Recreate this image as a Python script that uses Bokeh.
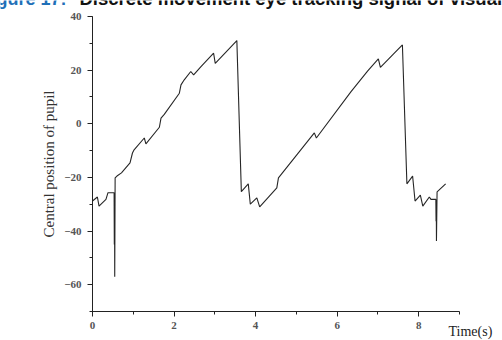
from bokeh.plotting import figure
from bokeh.models import Range1d, SingleIntervalTicker, Label, LinearAxis
from bokeh.embed import file_html
from bokeh.resources import INLINE

# Data
time_s = [0.0, 0.12, 0.16, 0.33, 0.38, 0.51, 0.53, 0.535, 0.54, 0.545, 0.555,
          0.6, 0.71, 0.92, 0.98, 1.02, 1.27, 1.31, 1.64, 1.68, 1.76, 2.13, 2.17,
          2.25, 2.41, 2.48, 2.66, 2.97, 3.01, 3.54, 3.65, 3.82, 3.87, 4.03, 4.1,
          4.52, 4.56, 5.44, 5.49, 6.34, 6.75, 7.01, 7.06, 7.6, 7.71, 7.85, 7.91,
          8.04, 8.1, 8.26, 8.3, 8.42, 8.425, 8.43, 8.435, 8.45, 8.66]
pupil = [-28.8, -27.3, -30.7, -28.2, -25.7, -25.7, -25.7, -45.0, -26.0, -57.0, -20.2,
         -19.5, -18.3, -14.6, -10.9, -9.7, -5.3, -7.5, -1.3, 2.1, 3.5, 11.4, 14.5,
         16.4, 19.5, 18.2, 21.3, 26.3, 22.5, 31.0, -25.3, -22.4, -30.0, -27.6, -31.0,
         -23.9, -20.2, -3.4, -5.3, 12.0, 19.7, 24.2, 21.0, 29.4, -22.4, -19.5, -28.8,
         -26.6, -30.7, -27.3, -28.2, -28.2, -36.3, -28.5, -43.7, -25.4, -22.4]

x_bounds = (0, 9)
y_bounds = (-70, 40)
title_prefix = "Figure 17:"
title_rest = "Discrete movement eye tracking signal of visual"
y_label = "Central position of pupil"
x_label = "Time(s)"

# frame covers the whole canvas; data 0..9 -> px 92..459, 40..-70 -> py 16..311
W, H = 502, 340
fl, ft, fw, fh = 92.0, 16.0, 367.0, 295.0
sx = fw / (x_bounds[1] - x_bounds[0])
sy = fh / (y_bounds[1] - y_bounds[0])
xr = Range1d(x_bounds[0] - fl / sx, x_bounds[1] + (W - fl - fw) / sx)
yr = Range1d(y_bounds[0] - (H - ft - fh) / sy, y_bounds[1] + ft / sy)


def dx(px):
    return x_bounds[0] + (px - fl) / sx


def dy(py):
    return y_bounds[1] - (py - ft) / sy


p = figure(width=W, height=H, output_backend="svg", toolbar_location=None,
           x_range=xr, y_range=yr, x_axis_location=None, y_axis_location=None,
           title_location=None,
           min_border_left=0, min_border_right=0, min_border_top=0,
           min_border_bottom=0)
p.styles = {"position": "absolute", "left": "0px", "top": "0px"}
p.outline_line_color = None
p.background_fill_color = "white"
p.border_fill_color = "white"
p.xgrid.visible = False
p.ygrid.visible = False

p.line(time_s, pupil, line_color="#262626", line_width=1.1)

xaxis = LinearAxis(fixed_location=y_bounds[0], bounds=(-0.06, x_bounds[1]),
                   ticker=SingleIntervalTicker(interval=2, num_minor_ticks=2))
yaxis = LinearAxis(fixed_location=x_bounds[0], bounds=y_bounds,
                   ticker=SingleIntervalTicker(interval=20, num_minor_ticks=2))
for ax in (xaxis, yaxis):
    ax.axis_line_color = "#222222"
    ax.major_tick_line_color = "#222222"
    ax.minor_tick_line_color = "#222222"
    ax.major_tick_in = 0
    ax.major_tick_out = 5
    ax.minor_tick_in = 0
    ax.minor_tick_out = 3
    ax.major_label_text_font = "Liberation Serif"
    ax.major_label_text_font_size = "11px"
    ax.major_label_text_font_style = "bold"
    ax.major_label_text_color = "#555555"
xaxis.major_label_standoff = 5
yaxis.major_label_standoff = 6

yaxis.axis_label = y_label
yaxis.axis_label_text_font = "Liberation Serif"
yaxis.axis_label_text_font_size = "15px"
yaxis.axis_label_text_font_style = "normal"
yaxis.axis_label_text_color = "#333333"
yaxis.axis_label_standoff = 4

p.add_layout(xaxis, "below")
p.add_layout(yaxis, "left")

p.add_layout(Label(x=dx(448), y=dy(331), text=x_label, text_font="Liberation Serif",
                   text_font_size="14px", text_color="#222222",
                   text_baseline="middle"))
p.add_layout(Label(x=dx(-20), y=dy(-1.5), text=title_prefix, text_font="Liberation Sans",
                   text_font_size="18px", text_font_style="bold", text_color="#1f70b8",
                   text_baseline="middle"))
p.add_layout(Label(x=dx(79), y=dy(-1.8), text=title_rest, text_font="Liberation Sans",
                   text_font_size="18.5px", text_font_style="bold", text_color="#111111",
                   text_baseline="middle"))

open("out.html", "w").write(file_html(p, INLINE))
